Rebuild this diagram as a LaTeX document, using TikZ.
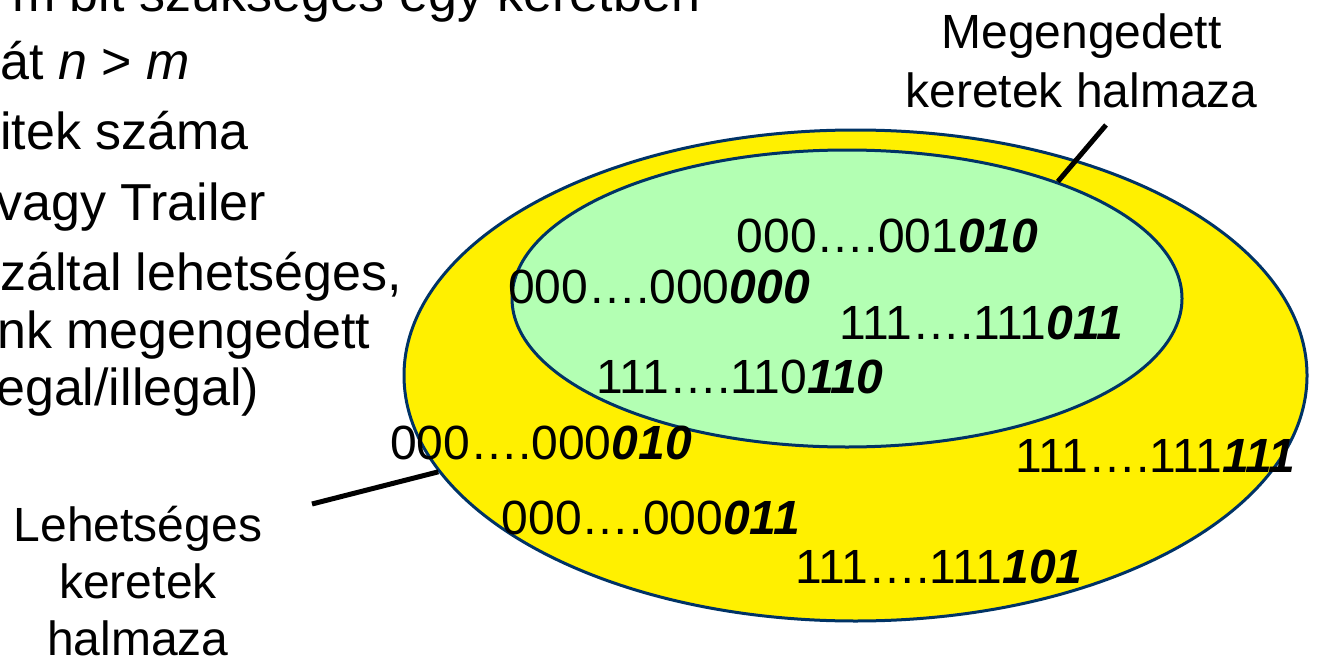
\documentclass[tikz,border=0pt]{standalone}
\usepackage{fontspec}
\setmainfont{Liberation Sans}
\usetikzlibrary{shapes.geometric}
\definecolor{setyellow}{RGB}{255,240,0}
\definecolor{setgreen}{RGB}{179,255,179}
\definecolor{setline}{RGB}{0,51,102}
\newcommand{\tailbits}[1]{\textbf{\textit{#1}}}
\begin{document}
\begin{tikzpicture}[x=1pt,y=-1pt,
  setell/.style={ellipse, draw=setline, line width=3pt, inner sep=0pt},
  code/.style={anchor=base west, inner sep=0pt, font=\fontsize{48}{58}\selectfont},
  bullet/.style={anchor=base west, inner sep=0pt, font=\fontsize{52}{58}\selectfont},
  lab/.style={align=center, inner sep=0pt, anchor=north},
  pointer/.style={line width=5pt}]
\clip (0,0) rectangle (1321,658);
% sets
\node[setell, fill=setyellow, minimum width=903pt, minimum height=491pt] (outer) at (855.5,375.5) {};
\node[setell, fill=setgreen, minimum width=670pt, minimum height=297pt] (inner) at (847,298.5) {};
% labels
\node[lab, font=\fontsize{48}{59}\selectfont] (mlab) at (1081.5,14) {Megengedett\\keretek halmaza};
\node[lab, font=\fontsize{48}{57}\selectfont] (llab) at (138,506) {Lehets\'eges\\keretek\\halmaza};
\coordinate (mtail) at (1106,125);
\coordinate (ltail) at (312,504);
\draw[pointer] (mtail) -- (inner.29.5);
\draw[pointer] (ltail) -- (outer.193.2);
% codes
\node[code] (c1) at (736.5,252) {000….001\tailbits{010}};
\node[code] (c2) at (508,303) {000….000\tailbits{000}};
\node[code] (c3) at (839,339) {111….111\tailbits{011}};
\node[code] (c4) at (596,393) {111….110\tailbits{110}};
\node[code] (c5) at (390,459) {000….000\tailbits{010}};
\node[code] (c6) at (1015,472) {111….111\tailbits{111}};
\node[code] (c7) at (501.5,534) {000….000\tailbits{011}};
\node[code] (c8) at (795,583) {111….111\tailbits{101}};
% clipped bullet text
\node[bullet] (t1) at (12,12) {m bit sz\"uks\'eges egy keretben};
\node[bullet] (t2) at (0,80) {\'at \textit{n} > \textit{m}};
\node[bullet] (t3) at (0,149) {itek sz\'ama};
\node[bullet] (t4) at (-4,220) {vagy Trailer};
\node[bullet] (t5) at (0,290) {z\'altal lehets\'eges,};
\node[bullet] (t6) at (-3,348) {nk megengedett};
\node[bullet] (t7) at (-4,405) {egal/illegal)};
\end{tikzpicture}
\end{document}
